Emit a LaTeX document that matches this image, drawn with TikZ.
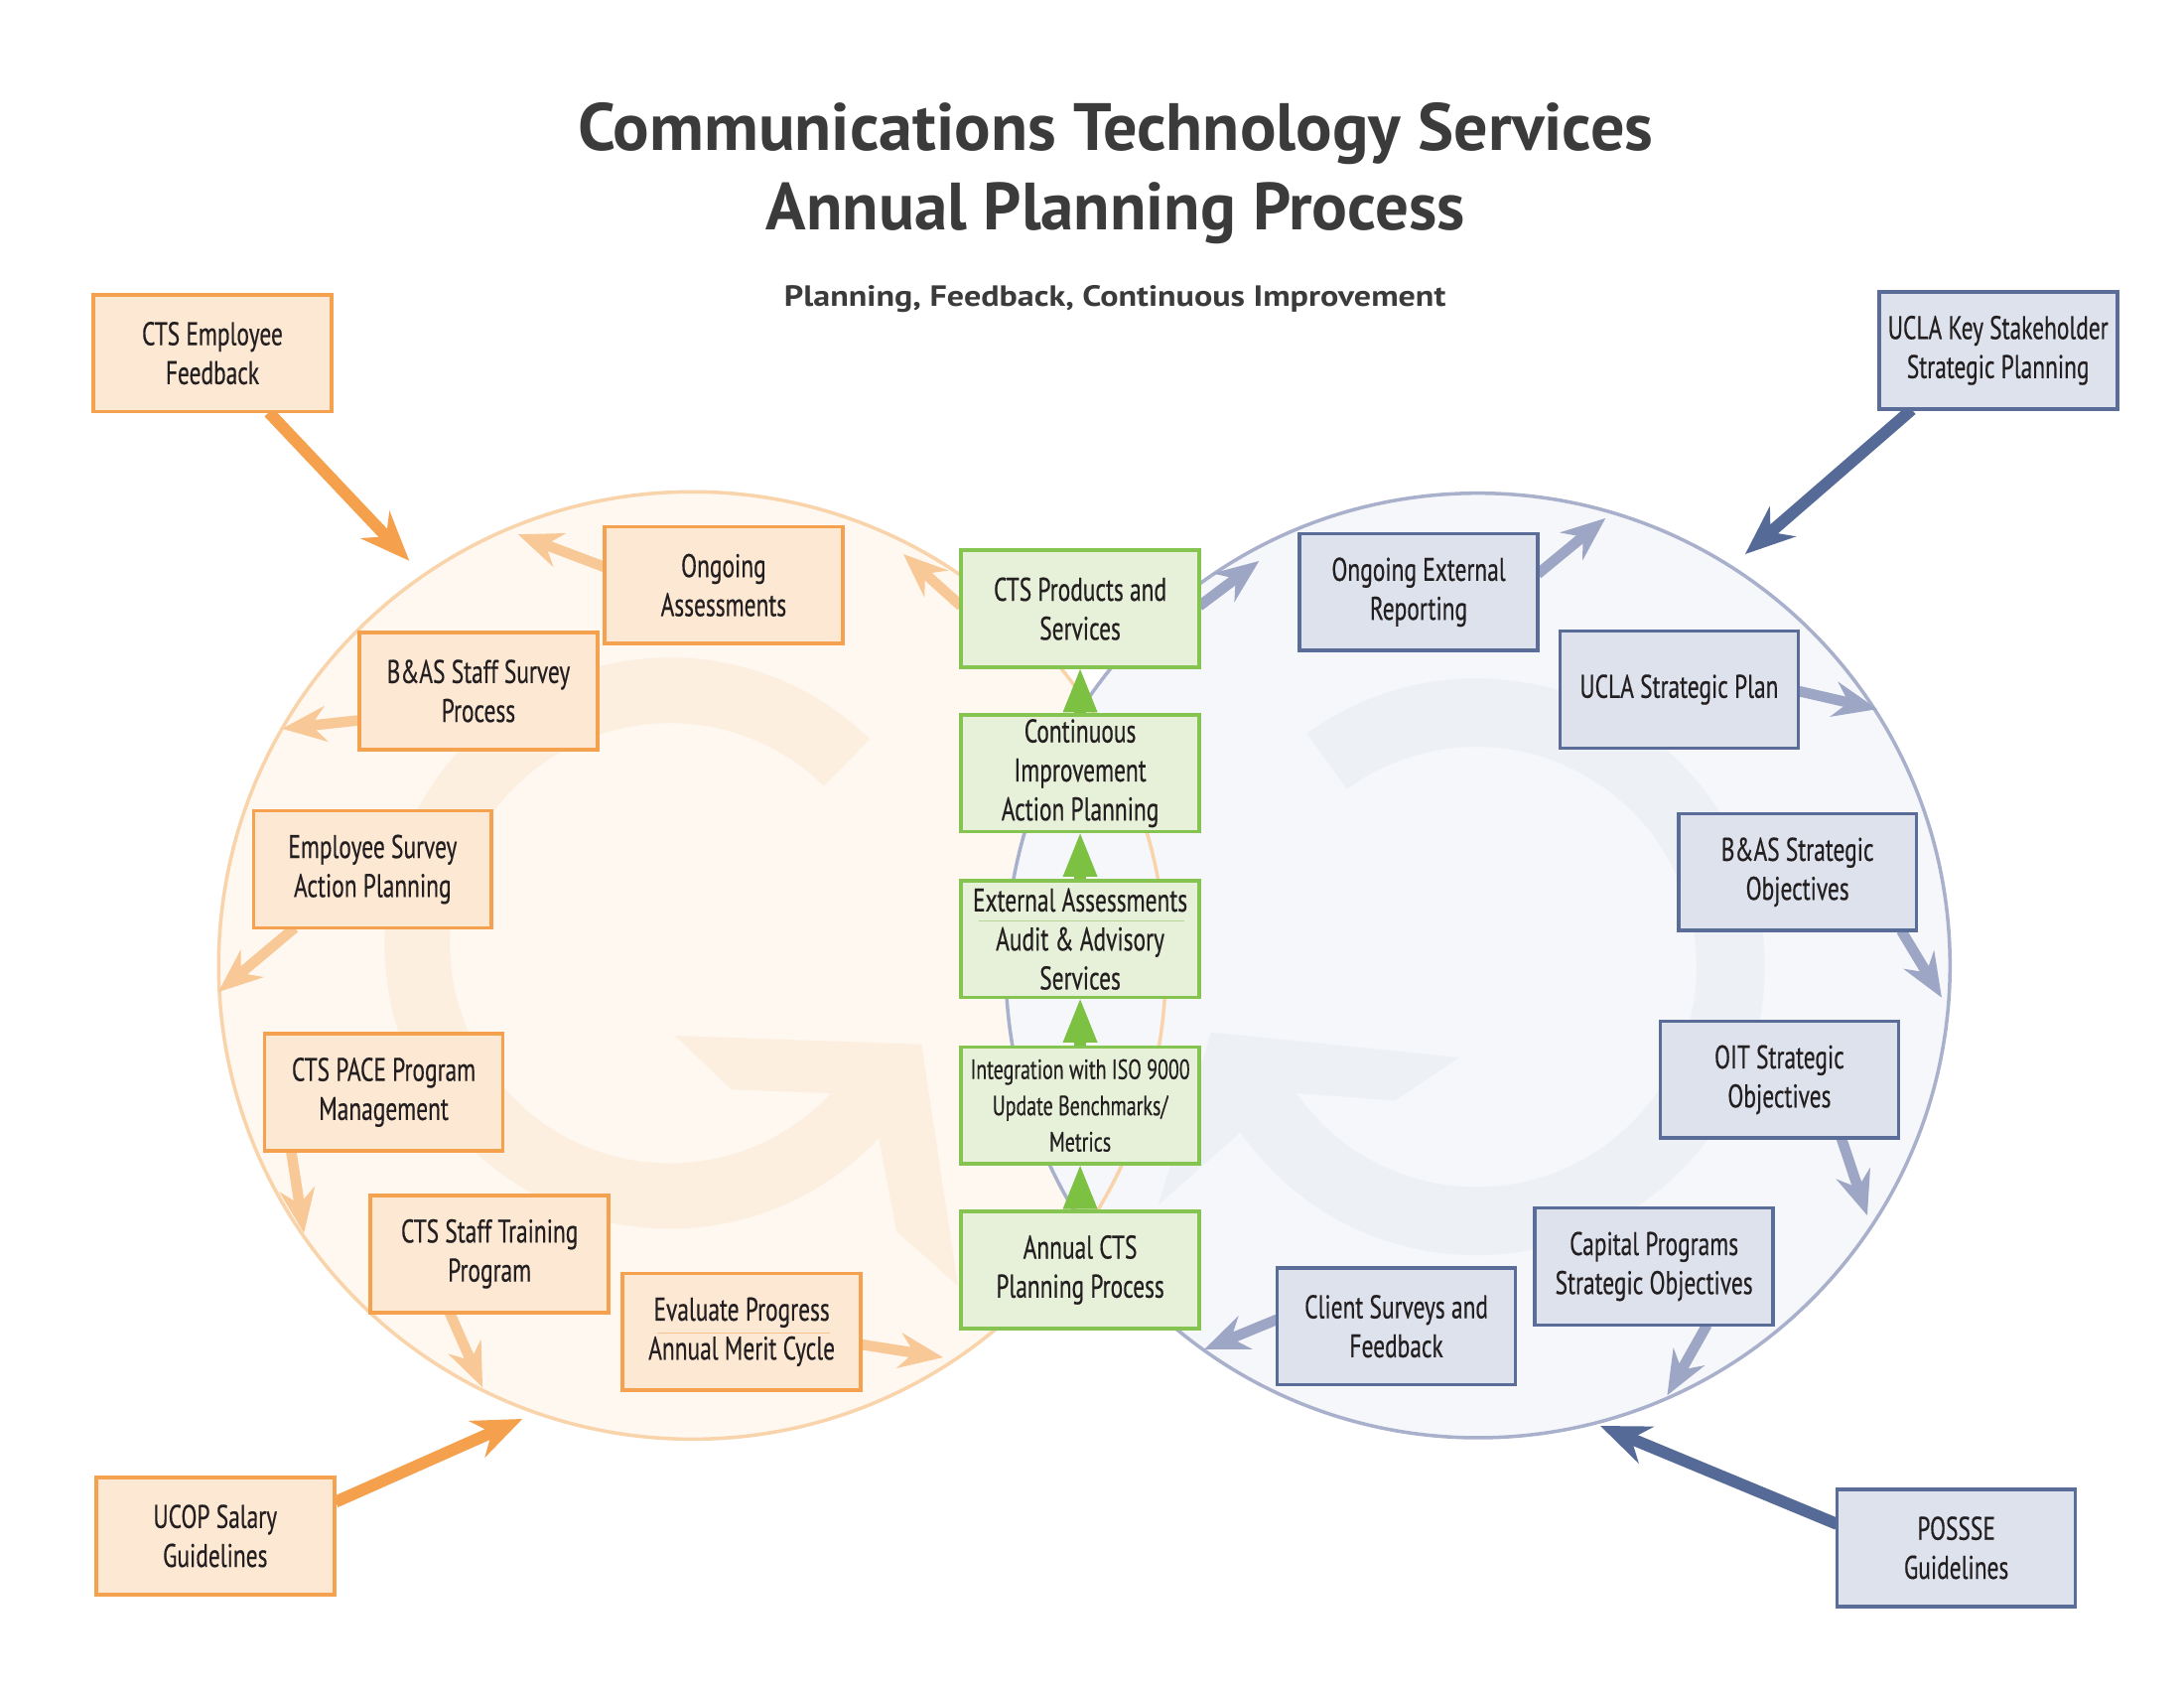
\documentclass[tikz,border=0pt]{standalone}
\usepackage{fontspec}
\usepackage{graphicx}
\usetikzlibrary{arrows.meta,calc}
\setmainfont{PT Sans}
\newfontfamily\condfont[FakeStretch=0.71,FakeBold=0.4]{PT Sans}
\definecolor{oline}{HTML}{F4A24F}
\definecolor{ofill}{HTML}{FDE8D4}
\definecolor{gline}{HTML}{86C452}
\definecolor{gfill}{HTML}{E7F0D9}
\definecolor{bline}{HTML}{5A6C98}
\definecolor{bfill}{HTML}{DEE2EC}
\definecolor{odark}{HTML}{F4A04C}
\definecolor{olight}{HTML}{F9C897}
\definecolor{bdark}{HTML}{566A98}
\definecolor{blight}{HTML}{9EA6C6}
\definecolor{garrow}{HTML}{7DC142}
\definecolor{lcfill}{HTML}{FEF8F0}
\definecolor{lcline}{HTML}{F9D3AA}
\definecolor{lring}{HTML}{FDEFE0}
\definecolor{rcfill}{HTML}{F5F7FA}
\definecolor{rcline}{HTML}{A9B0CB}
\definecolor{rring}{HTML}{EDF0F5}
\definecolor{txt}{HTML}{231F20}
\definecolor{ttl}{HTML}{3B3B3B}
\definecolor{osep}{HTML}{F6C28E}
\definecolor{gsep}{HTML}{B5D696}
\pgfdeclarelayer{back}
\pgfdeclarelayer{mid}
\pgfsetlayers{back,mid,main}
\tikzset{
  box/.style={draw, line width=2.6pt, minimum width=171pt, minimum height=84pt,
    inner sep=0pt, align=center, text=txt,
    font=\condfont\fontsize{23.5}{28}\selectfont},
  obox/.style={box, draw=oline, fill=ofill},
  gbox/.style={box, draw=gline, fill=gfill},
  bbox/.style={box, draw=bline, fill=bfill},
  smalltext/.style={font=\condfont\fontsize{20}{26}\selectfont},
  darr/.style={line width=8.5pt, -{Stealth[length=36pt,width=29pt,inset=12pt,line width=0pt]}},
  larr/.style={line width=7.5pt, -{Stealth[length=32pt,width=26pt,inset=11pt,line width=0pt]}},
  garr/.style={draw=garrow, line width=9pt, -{Triangle[length=31pt,width=25pt,line width=0pt]}},
  ttlnode/.style={inner sep=0pt, anchor=base, text=ttl}
}
\begin{document}
\begin{tikzpicture}[x=1pt,y=-1pt]
\useasboundingbox (0,0) rectangle (1568,1212);

% titles
\node[ttlnode] (t1) at (801,108) {\resizebox{772pt}{\height}{\fontsize{48}{58}\selectfont\bfseries Communications Technology Services}};
\node[ttlnode] (t2) at (801,165) {\resizebox{502pt}{\height}{\fontsize{48}{58}\selectfont\bfseries Annual Planning Process}};
\node[ttlnode] (t3) at (800.5,220) {\resizebox{475pt}{\height}{\fontsize{21}{24}\selectfont\bfseries Planning, Feedback, Continuous Improvement}};

\begin{pgfonlayer}{back}
  \fill[white] (0,0) rectangle (1568,1212);
  \fill[lcfill] (497,693) circle[radius=340];
  \fill[rcfill] (1061,693) circle[radius=339];
  % left watermark ring
  \fill[lring] (481,677) ++(-45.6:205) arc[start angle=-45.6, end angle=-317, radius=205]
    -- (643.6,883.8) -- (687.8,923) -- (661.6,749.6) -- (484.6,743.4) -- (525,782)
    -- ($(481,677)+(-317:158)$) arc[start angle=-317, end angle=-45.6, radius=158] -- cycle;
  % right watermark ring
  \fill[rring] (1060,694) ++(-126:207) arc[start angle=-126, end angle=145, radius=207]
    -- (831.5,865) -- (869.5,741) -- (1047.7,759) -- (1001.4,790)
    -- ($(1060,694)+(145:158)$) arc[start angle=145, end angle=-126, radius=158] -- cycle;
  \draw[lcline, line width=2.5pt] (497,693) circle[radius=340];
  \draw[rcline, line width=2.5pt] (1061,693) circle[radius=339];
\end{pgfonlayer}

% orange boxes
\node[obox] (cef) at (152.5,253.5) {CTS Employee\\Feedback};
\node[obox] (oa) at (519.5,420) {Ongoing\\Assessments};
\node[obox] (bas) at (343.5,496) {B\&AS Staff Survey\\Process};
\node[obox] (esap) at (267.5,624) {Employee Survey\\Action Planning};
\node[obox] (pace) at (275.5,784) {CTS PACE Program\\Management};
\node[obox] (train) at (351.5,900) {CTS Staff Training\\Program};
\node[obox] (eval) at (532.5,956) {Evaluate Progress\\Annual Merit Cycle};
\node[obox] (ucop) at (154.5,1102.5) {UCOP Salary\\Guidelines};
% green boxes
\node[gbox] (prod) at (775.5,437) {CTS Products and\\Services};
\node[gbox] (cont) at (775.5,555) {Continuous\\Improvement\\Action Planning};
\node[gbox] (ext) at (775.5,674) {External Assessments\\Audit \& Advisory\\Services};
\node[gbox, smalltext] (iso) at (775.5,793.5) {Integration with ISO 9000\\Update Benchmarks/\\Metrics};
\node[gbox] (annual) at (775.5,911.5) {Annual CTS\\Planning Process};
% blue boxes
\node[bbox] (key) at (1434.5,251.5) {UCLA Key Stakeholder\\Strategic Planning};
\node[bbox] (oer) at (1018.5,425) {Ongoing External\\Reporting};
\node[bbox] (usp) at (1205.5,495) {UCLA Strategic Plan};
\node[bbox] (basso) at (1290.5,626) {B\&AS Strategic\\Objectives};
\node[bbox] (oit) at (1277.5,775) {OIT Strategic\\Objectives};
\node[bbox] (cap) at (1187.5,909) {Capital Programs\\Strategic Objectives};
\node[bbox] (cs) at (1002.5,952) {Client Surveys and\\Feedback};
\node[bbox] (posse) at (1404.5,1111) {POSSSE\\Guidelines};

% separator rules inside boxes
\draw[osep, line width=0.8pt] ($(eval.center)+(-60.5,1)$) -- ($(eval.center)+(63.5,1)$);
\draw[gsep, line width=0.8pt] ($(ext.center)+(-72.5,-13)$) -- ($(ext.center)+(74.5,-13)$);

% arrow tips
\coordinate (e1) at (293.8,402.5);
\coordinate (e2) at (375,1018.5);
\coordinate (e3) at (372,383.6);
\coordinate (e4) at (202.6,523);
\coordinate (e5) at (156.8,712);
\coordinate (e6) at (218.2,885);
\coordinate (e7) at (346.4,995.7);
\coordinate (e8) at (677,974.3);
\coordinate (e9) at (648.6,397.8);
\coordinate (e10) at (903.9,402.7);
\coordinate (e11) at (1152.6,372);
\coordinate (e12) at (1347.7,509);
\coordinate (e13) at (1394,716);
\coordinate (e14) at (1340.6,872.4);
\coordinate (e15) at (1197,1001.5);
\coordinate (e16) at (864.6,968.6);
\coordinate (e17) at (1253,397.7);
\coordinate (e18) at (1149,1023.5);

\begin{pgfonlayer}{mid}
  \draw[darr, odark] ($(cef.center)+(40.5,42.5)$) -- (e1);
  \draw[darr, odark] ($(ucop.center)+(86.5,-24.5)$) -- (e2);
  \draw[larr, olight] ($(oa.center)+(-85.5,-13)$) -- (e3);
  \draw[larr, olight] ($(bas.center)+(-85.5,21)$) -- (e4);
  \draw[larr, olight] ($(esap.center)+(-56,42)$) -- (e5);
  \draw[larr, olight] ($(pace.center)+(-66.5,42)$) -- (e6);
  \draw[larr, olight] ($(train.center)+(-28.8,42)$) -- (e7);
  \draw[larr, olight] ($(eval.center)+(85.5,9)$) -- (e8);
  \draw[larr, olight] ($(prod.center)+(-85.5,-2)$) -- (e9);
  \draw[larr, blight] ($(prod.center)+(85.5,-2)$) -- (e10);
  \draw[larr, blight] ($(oer.center)+(85.5,-13)$) -- (e11);
  \draw[larr, blight] ($(usp.center)+(85.5,1)$) -- (e12);
  \draw[larr, blight] ($(basso.center)+(74.5,42)$) -- (e13);
  \draw[larr, blight] ($(oit.center)+(44.5,42)$) -- (e14);
  \draw[larr, blight] ($(cap.center)+(38,42)$) -- (e15);
  \draw[larr, blight] ($(cs.center)+(-85.5,-5)$) -- (e16);
  \draw[darr, bdark] ($(key.center)+(-62,42.5)$) -- (e17);
  \draw[darr, bdark] ($(posse.center)+(-85.5,-17)$) -- (e18);
\end{pgfonlayer}

% green vertical arrows
\draw[garr] (annual.north) -- (iso.south);
\draw[garr] (iso.north) -- (ext.south);
\draw[garr] (ext.north) -- (cont.south);
\draw[garr] (cont.north) -- (prod.south);
\end{tikzpicture}
\end{document}
